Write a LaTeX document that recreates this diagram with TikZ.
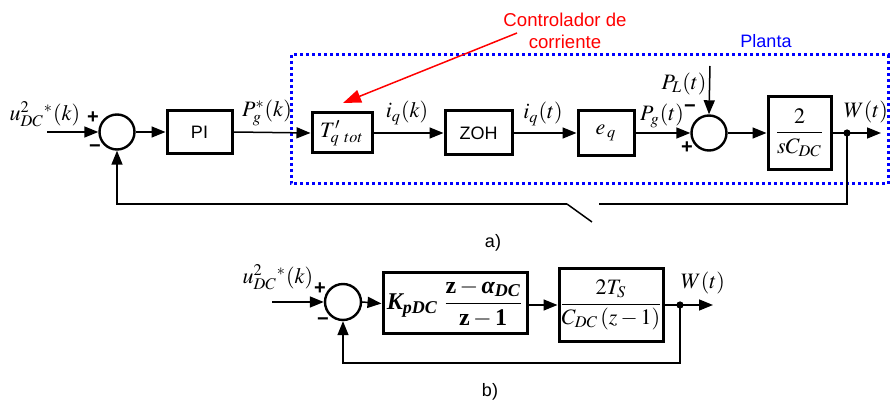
\documentclass[tikz,border=0pt]{standalone}
\usepackage{amsmath}
\usepackage{mathptmx}
\usepackage[no-math]{fontspec}
\setmainfont{Liberation Sans}
\newfontfamily\tbserif{Liberation Serif}
\newcommand\bitx[1]{\text{\tbserif\bfseries\itshape #1}}
\newcommand\butx[1]{\text{\tbserif\bfseries #1}}
\usetikzlibrary{arrows.meta}
\begin{document}
\begin{tikzpicture}[x=0.5pt,y=-0.5pt,
 blk/.style={draw,line width=1.5pt,inner sep=0pt,font=\fontsize{11}{13}\selectfont},
 sumc/.style={circle,draw,line width=1.2pt,inner sep=0pt,minimum size=17.5pt},
 conn/.style={line width=0.75pt},
 arr/.style={conn,-{Triangle[length=7pt,width=5.5pt]}},
 lbl/.style={inner sep=0pt,font=\fontsize{11}{13}\selectfont},
 txt/.style={inner sep=0pt,font=\fontsize{9}{11}\selectfont},
 sgn/.style={inner sep=0pt,font=\fontsize{10}{12}\selectfont\bfseries},
 dot/.style={circle,fill,inner sep=0pt,minimum size=3.6pt}]
\useasboundingbox (0,0) rectangle (891,406);
% ---------- (a) ----------
\draw[blue,line width=1.5pt,dash pattern=on 1.5pt off 1.5pt] (291,55) rectangle (888,184);
\node[txt,text=blue] (planta) at (766,41) {Planta};
\node[txt,text=red,align=center,font=\fontsize{9.3}{11}\selectfont] (ctrl) at (565,31) {Controlador de\\corriente};
\coordinate (ctrlS) at (517,33);
\coordinate (ctrlT) at (343,103);
\draw[red,line width=0.75pt,-{Triangle[length=9pt,width=6.5pt]}] (ctrlS) -- (ctrlT);

\coordinate (inA) at (47,132);
\node[sumc] (sA1) at (117,132) {};
\node[blk,minimum width=32.5pt,minimum height=21.5pt,font=\fontsize{9}{11}\selectfont] (PI) at (199.5,132) {PI};
\node[blk,minimum width=30pt,minimum height=20pt] (T) at (342,133) {$T'_{q\;\,tot}$};
\node[blk,minimum width=33.5pt,minimum height=22pt,font=\fontsize{9}{11}\selectfont] (ZOH) at (478.5,133) {ZOH};
\node[blk,minimum width=28pt,minimum height=22.5pt] (eq) at (606,133) {$e_{\,q}$};
\node[sumc] (sA2) at (709,133) {};
\node[blk,minimum width=31.5pt,minimum height=36.5pt] (G) at (799.5,133) {$\dfrac{2}{sC_{DC}}$};
\node[dot] (dA) at (847,133) {};
\coordinate (outA) at (881,133);
\coordinate (PLs) at (710,66);

\draw[arr] (inA) -- (sA1.west);
\draw[arr] (sA1.east) -- (PI.west);
\draw[arr] (PI.east) -- (T.west);
\draw[arr] (T.east) -- (ZOH.west);
\draw[arr] (ZOH.east) -- (eq.west);
\draw[arr] (eq.east) -- (sA2.west);
\draw[arr] (PLs) -- (sA2.north);
\draw[arr] (sA2.east) -- (G.west);
\draw[conn] (G.east) -- (dA.center);
\draw[arr] (dA.center) -- (outA);

\coordinate (fA1) at (847,204);
\coordinate (sw3) at (599,204);
\coordinate (sw1) at (567,204);
\coordinate (sw2) at (592,222);
\coordinate (fA2) at (117,204);
\draw[conn] (dA.center) -- (fA1) -- (sw3);
\draw[conn] (sw2) -- (sw1);
\draw[arr] (sw1) -- (fA2) -- (sA1.south);

\node[lbl] (uA) at (45,114) {$u^{2}_{DC}{}^{*}(k)$};
\node[sgn] (pA1) at (93,118) {+};
\node[sgn] (mA1) at (95,149) {−};
\node[lbl] (PgsA) at (267,113) {$P^{*}_{g}(k)$};
\node[lbl] (iqk) at (407,113) {$i_{q}(k)$};
\node[lbl] (iqt) at (543,114) {$i_{q}(t)$};
\node[lbl] (Pgt) at (662,116) {$P_{g}(t)$};
\node[sgn] (mA2) at (690,109) {−};
\node[sgn] (pA2) at (687,148) {+};
\node[lbl] (PL) at (684,84) {$P_{L}(t)$};
\node[lbl] (WA) at (866,112) {$W(t)$};
\node[txt] (la) at (493,243) {a)};
% ---------- (b) ----------
\coordinate (inB) at (272,302);
\node[sumc,minimum size=18pt] (sB) at (343,302) {};
\node[blk,minimum width=72pt,minimum height=30.5pt,font=\fontsize{12}{14}\selectfont] (K) at (455,303.5) {$\bitx{K}_{\bitx{pDC}}\;\dfrac{\butx{z}-\bitx{α}_{\bitx{DC}}}{\butx{z}-\butx{1}}$};
\node[blk,minimum width=52pt,minimum height=36.5pt] (H) at (611,305) {$\dfrac{2T_{S}}{C_{DC}\left(z-1\right)}$};
\node[dot] (dB) at (680,305) {};
\coordinate (outB) at (713,305);
\draw[arr] (inB) -- (sB.west);
\draw[arr] (sB.east) -- (K.west);
\draw[arr] (K.east |- H.west) -- (H.west);
\draw[conn] (H.east) -- (dB.center);
\draw[arr] (dB.center) -- (outB);
\coordinate (fB1) at (680,363);
\coordinate (fB2) at (343,363);
\draw[arr] (dB.center) -- (fB1) -- (fB2) -- (sB.south);
\node[lbl] (uB) at (278,277) {$u^{2}_{DC}{}^{*}(k)$};
\node[sgn] (pB) at (320,289) {+};
\node[sgn] (mB) at (323,322) {−};
\node[lbl] (WB) at (703,283) {$W(t)$};
\node[txt] (lb) at (490,392) {b)};
\end{tikzpicture}
\end{document}
